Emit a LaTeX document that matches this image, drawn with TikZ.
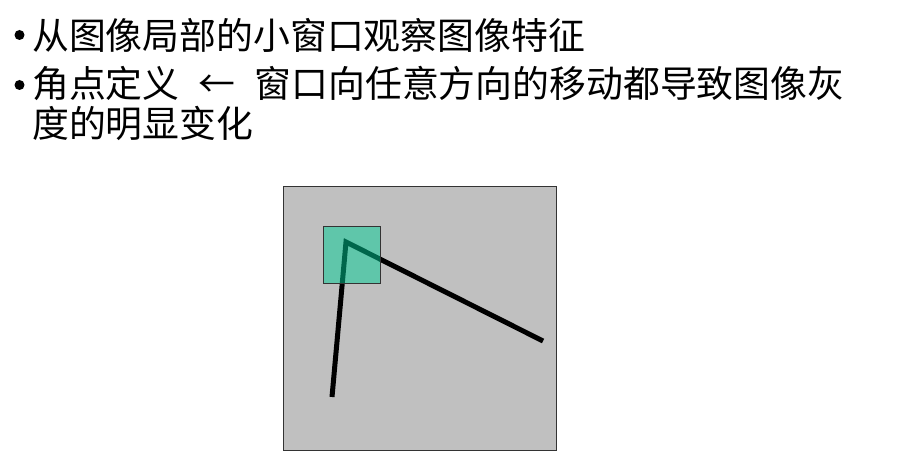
\documentclass[tikz,border=0pt]{standalone}
\usepackage{fontspec}
\newfontfamily\cjk{Noto Sans CJK SC}
\usetikzlibrary{positioning}

\definecolor{fondgris}{RGB}{192,192,192}
\definecolor{vertfen}{RGB}{0,205,150}

\begin{document}
\begin{tikzpicture}[x=1bp, y=-1bp,
texte/.style={anchor=base west, inner sep=0pt, font=\cjk\fontsize{37}{40}\selectfont},
puce/.style={circle, fill=black, inner sep=0pt, minimum size=10bp},
image/.style={rectangle, draw=black!80, fill=fondgris, thin, minimum width=273bp, minimum height=264bp, inner sep=0pt},
fenetre/.style={rectangle, draw=black!80, fill=vertfen, fill opacity=0.5, thin, minimum size=57bp, inner sep=0pt},
trait/.style={line width=5bp, black},
]
    \useasboundingbox (0,0) rectangle (906,469);

    % Définition du texte
    \node [puce] (puceA) at (19.5,35) {};
    \node [texte] (ligneA) at (32,50) {从图像局部的小窗口观察图像特征};
    \node [puce] (puceB) at (19.5,85) {};
    \node [texte] (ligneB) at (32,98) {角点定义\makebox[75bp]{←}窗口向任意方向的移动都导致图像灰};
    \node [texte, below=40bp of ligneB.base west, anchor=base west] (ligneC) {度的明显变化};

    % Définition de l'image
    \node [image, anchor=north west] (img) at (283,186) {};
    \coordinate (coin) at (346,242);
    \coordinate (basG) at (332,397);
    \coordinate (droite) at (543,341);
    \draw [trait] (basG) -- (coin) -- (droite);

    % Fenêtre d'observation
    \node [fenetre, anchor=north west] (fen) at (323,226) {};
\end{tikzpicture}
\end{document}
